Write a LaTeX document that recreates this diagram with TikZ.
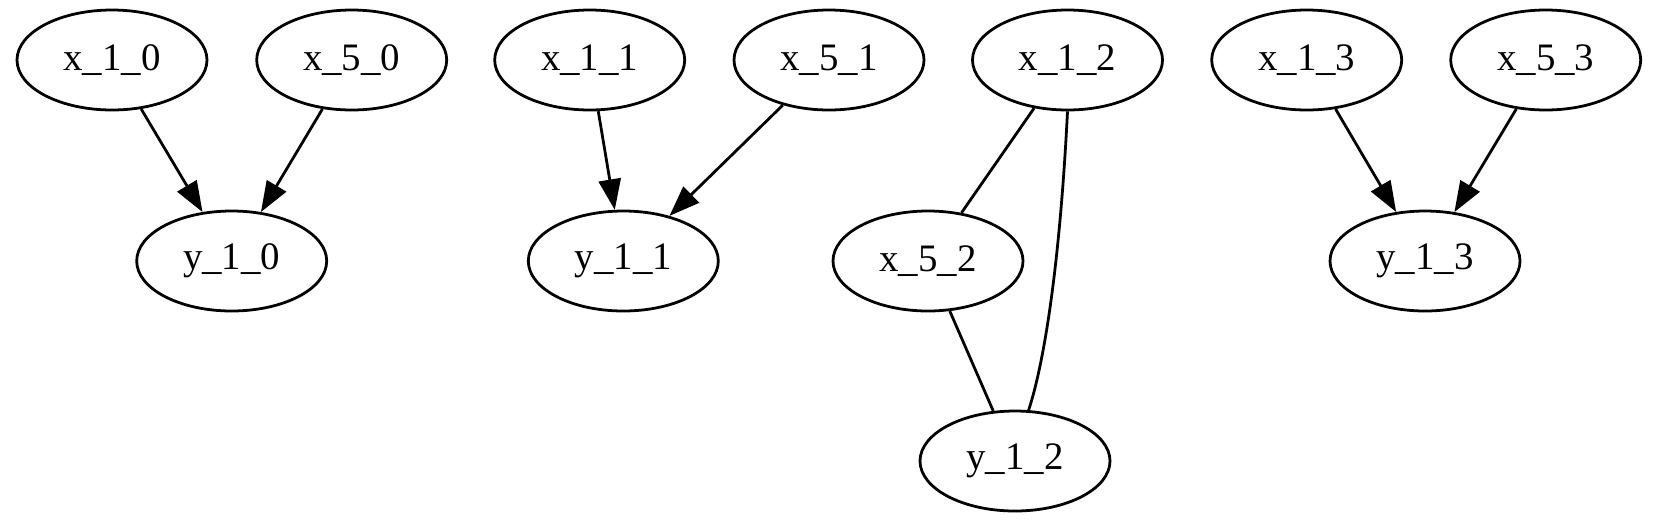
\documentclass[tikz,border=0pt]{standalone}
\usepackage{fontspec}
\setmainfont{Liberation Serif}
\usetikzlibrary{shapes.geometric,arrows.meta}
\begin{document}
\begin{tikzpicture}[x=0.36pt,y=-0.36pt,
  gnode/.style={ellipse,draw,line width=1pt,minimum width=68.4pt,minimum height=36pt,inner sep=0pt,font=\fontsize{14}{16}\selectfont},
  arr/.style={line width=1pt,-{Triangle[length=11pt,width=8pt]}},
  undir/.style={line width=1pt}]
\useasboundingbox (0,0) rectangle (1671,522);
\node[gnode] (x10) at (112,60) {x\_1\_0};
\node[gnode] (x50) at (351.7,60) {x\_5\_0};
\node[gnode] (y10) at (231.7,261) {y\_1\_0};
\node[gnode] (x11) at (589.7,60) {x\_1\_1};
\node[gnode] (x51) at (829,60) {x\_5\_1};
\node[gnode] (y11) at (623.3,261) {y\_1\_1};
\node[gnode] (x12) at (1067.5,60) {x\_1\_2};
\node[gnode] (x52) at (928,261) {x\_5\_2};
\node[gnode] (y12) at (1015,461) {y\_1\_2};
\node[gnode] (x13) at (1306.7,60) {x\_1\_3};
\node[gnode] (x53) at (1545.7,60) {x\_5\_3};
\node[gnode] (y13) at (1425,261) {y\_1\_3};
\draw[arr] (x10) -- (y10);
\draw[arr] (x50) -- (y10);
\draw[arr] (x11) -- (y11);
\draw[arr] (x51) -- (y11);
\draw[undir] (x12) -- (x52);
\draw[undir] (x52) -- (y12);
\draw[undir] (x12.south) .. controls (1060,260) and (1045,360) .. (y12.75);
\draw[arr] (x13) -- (y13);
\draw[arr] (x53) -- (y13);
\end{tikzpicture}
\end{document}
